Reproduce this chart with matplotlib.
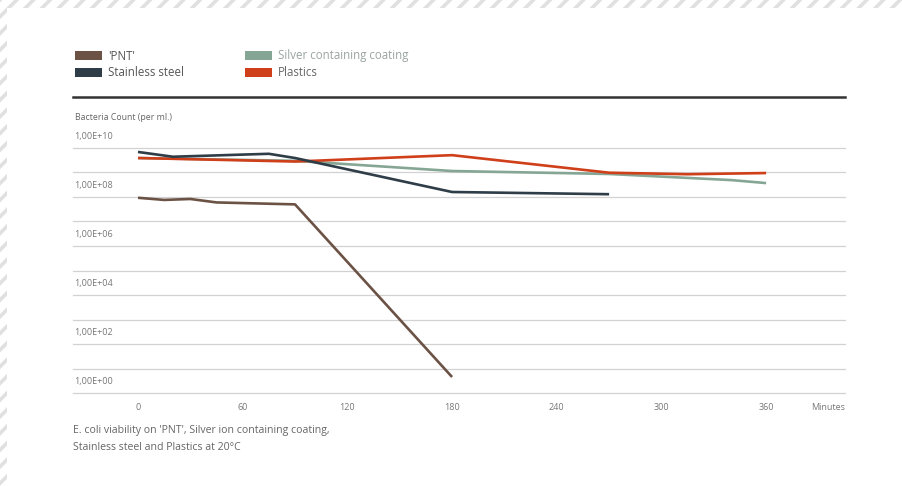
import matplotlib
matplotlib.use("Agg")
import matplotlib.pyplot as plt
from matplotlib.patches import Rectangle
from matplotlib.lines import Line2D
from matplotlib.ticker import NullLocator
import numpy as np

plt.rcParams['font.family'] = ['Open Sans', 'DejaVu Sans']
plt.rcParams['hatch.linewidth'] = 2.6
plt.rcParams['hatch.color'] = '#e0e0e0'

# data (minutes, bacteria count per ml)
pnt_min = [0, 15, 30, 45, 90, 180]
pnt_count = [9.3e7, 7.6e7, 8.3e7, 6.0e7, 5.0e7, 4.5]

steel_min = [0, 20, 75, 90, 180, 270]
steel_count = [6.9e9, 4.4e9, 5.8e9, 3.9e9, 1.6e8, 1.3e8]

silver_min = [0, 90, 180, 270, 340, 360]
silver_count = [3.9e9, 3.0e9, 1.15e9, 8.7e8, 4.9e8, 3.7e8]

plastics_min = [0, 90, 180, 270, 315, 360]
plastics_count = [3.9e9, 2.8e9, 5.1e9, 9.8e8, 8.5e8, 9.5e8]

x_ticks = [0, 60, 120, 180, 240, 300, 360]
y_labels = ['1,00E+00', '1,00E+02', '1,00E+04', '1,00E+06', '1,00E+08', '1,00E+10']
y_label_exp = [0, 2, 4, 6, 8, 10]

c_pnt = '#6b5245'
c_steel = '#2e3d47'
c_silver = '#86a695'
c_plastics = '#cf3f1a'

W, H = 903, 486
fig = plt.figure(figsize=(W / 100, H / 100), dpi=100)
fig.patch.set_facecolor('white')

def fx(px):
    return px / W

def fy(py):
    return 1 - py / H

# hatched border top and left
fig.patches.append(Rectangle((0, fy(8)), 1, 8 / H, transform=fig.transFigure,
                             facecolor='white', hatch='//', linewidth=0))
fig.patches.append(Rectangle((0, 0), 7 / W, 1, transform=fig.transFigure,
                             facecolor='white', hatch='//', linewidth=0))

ax = fig.add_axes([fx(73), fy(393), fx(845) - fx(73), fy(148) - fy(393)])
ax.set_yscale('log')
ax.set_xlim(-37.25, 405.2)
ax.set_ylim(1, 1e10)

ax.plot(silver_min, silver_count, color=c_silver, lw=1.9, solid_capstyle='butt')
ax.plot(plastics_min, plastics_count, color=c_plastics, lw=1.9, solid_capstyle='butt')
ax.plot(steel_min, steel_count, color=c_steel, lw=1.9, solid_capstyle='butt')
ax.plot(pnt_min, pnt_count, color=c_pnt, lw=1.9, solid_capstyle='butt')

ax.set_yticks([10.0 ** k for k in range(11)])
ax.yaxis.set_minor_locator(NullLocator())
ax.set_yticklabels([])
ax.grid(axis='y', color='#d2d2d2', lw=0.9)
for gl in ax.get_ygridlines():
    gl.set_clip_on(False)
ax.set_axisbelow(True)
ax.tick_params(axis='y', length=0)
ax.set_xticks(x_ticks)
ax.set_xticklabels([str(t) for t in x_ticks])
ax.tick_params(axis='x', length=0, pad=7, labelsize=6.5, labelcolor='#777777')
for s in ax.spines.values():
    s.set_visible(False)

for lab, e in zip(y_labels, y_label_exp):
    ax.text(0.002, 10.0 ** (e + 0.45), lab, transform=ax.get_yaxis_transform(),
            ha='left', va='center', fontsize=6.5, color='#777777')

fig.text(fx(828), fy(407), 'Minutes', ha='center', va='center', fontsize=6.5, color='#777777')
fig.text(fx(75), fy(117), 'Bacteria Count (per ml.)', ha='left', va='center',
         fontsize=6.3, color='#666666')

# heavy rule above the chart
fig.add_artist(Line2D([fx(73), fx(845)], [fy(97), fy(97)], transform=fig.transFigure,
                      color='#333333', lw=1.8))

# legend
legend = [(75, 56, c_pnt, "'PNT'", '#555555'),
          (75, 73, c_steel, 'Stainless steel', '#555555'),
          (245, 56, c_silver, 'Silver containing coating', '#9aa5a0'),
          (245, 73, c_plastics, 'Plastics', '#666666')]
for px, py, col, txt, tcol in legend:
    fig.patches.append(Rectangle((fx(px), fy(py + 4.5)), 27 / W, 9 / H,
                                 transform=fig.transFigure, facecolor=col, lw=0))
    fig.text(fx(px + 33), fy(py), txt, ha='left', va='center', fontsize=8.3, color=tcol)

fig.text(fx(73), fy(430), "E. coli viability on 'PNT', Silver ion containing coating,",
         ha='left', va='center', fontsize=7.6, color='#666666')
fig.text(fx(73), fy(447), 'Stainless steel and Plastics at 20°C',
         ha='left', va='center', fontsize=7.6, color='#666666')

fig.savefig('out.png', dpi=100, facecolor='white')
